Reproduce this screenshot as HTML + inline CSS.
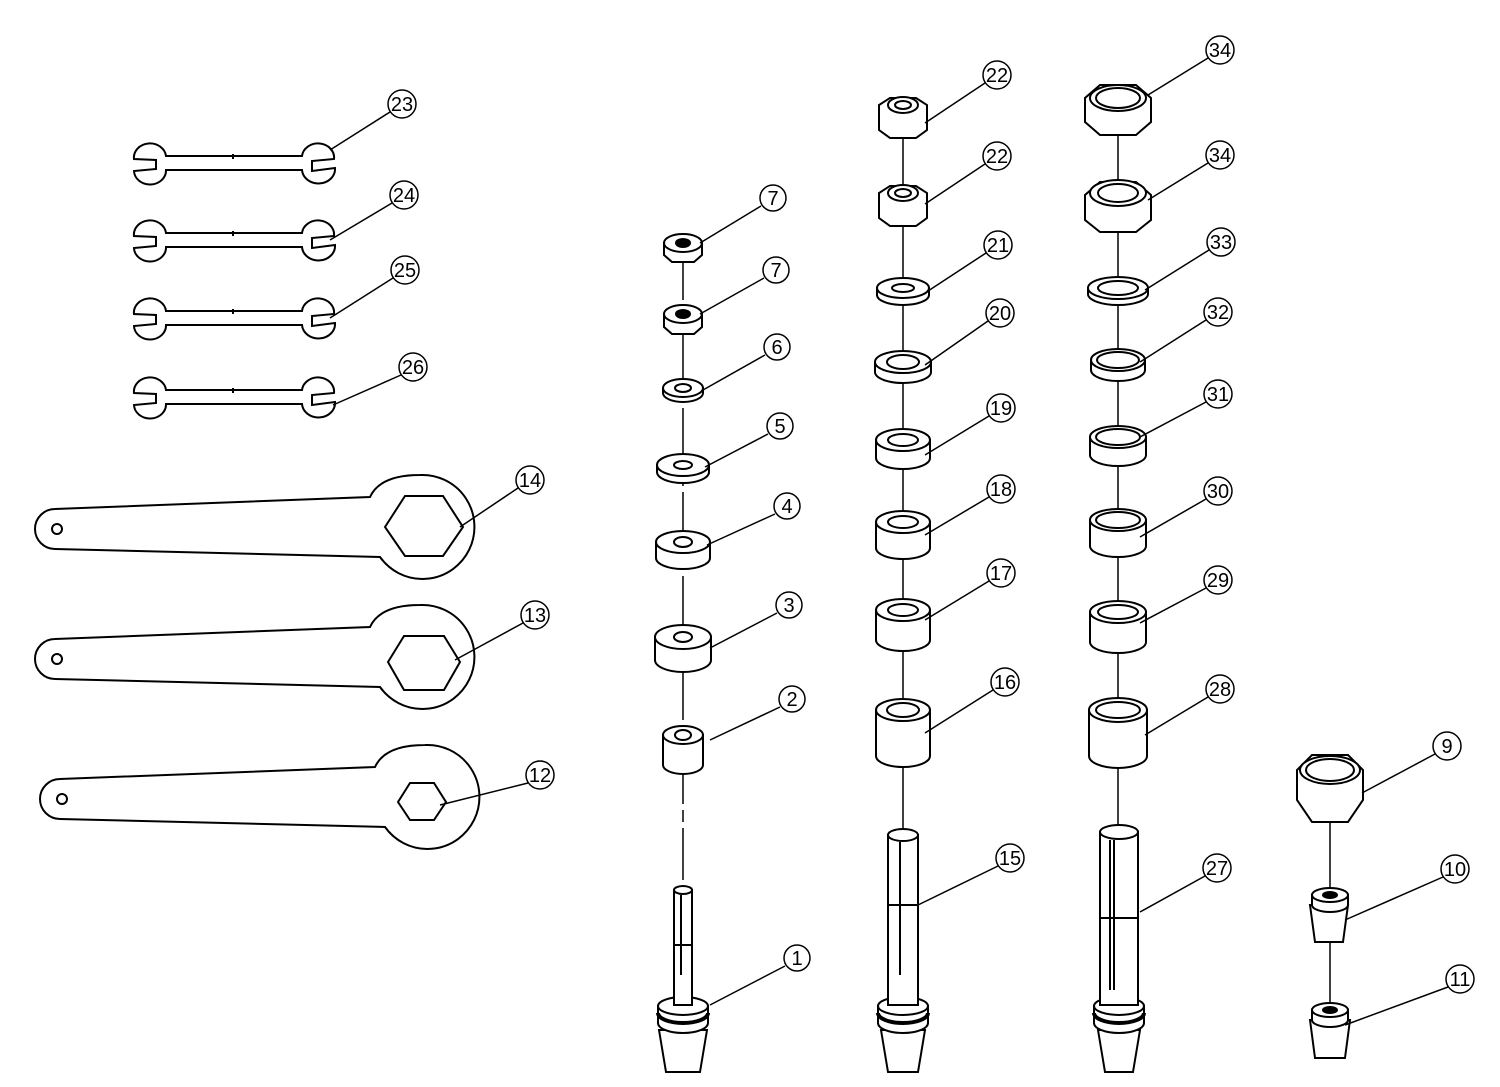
<!DOCTYPE html><html><head><style>html,body{margin:0;padding:0;background:#fff}svg{display:block}text{font-family:"Liberation Sans",sans-serif;font-size:20px;text-anchor:middle;dominant-baseline:central}</style></head><body>
<svg width="1500" height="1087" viewBox="0 0 1500 1087" xmlns="http://www.w3.org/2000/svg">
<defs>
<g id="sw" fill="#fff" stroke="#000" stroke-width="2"><path d="M4,-4 A16,14 0 0 1 36,-7 L172,-7 A16,14 0 0 1 204,-4 L182,-2 L182,8 L205,5 A16,14 0 0 1 172,7 L36,7 A16,14 0 0 1 4,8 L26,6 L26,-3 Z"/><line x1="103" y1="-9" x2="103" y2="-4"/></g>
<g id="lw" fill="#fff" stroke="#000" stroke-width="2"><path d="M20,-18 L335,-30 Q345,-52 385,-52 A52,52 0 1 1 345,30 L20,22 A20,20 0 0 1 20,-18 Z"/><circle cx="22" cy="2" r="5"/></g>
<g id="col" stroke="#000" stroke-width="2" fill="#fff"><path d="M-25,1 L-25,18 A25,10 0 0 0 25,18 L25,1 Z"/><ellipse cx="0" cy="1" rx="25" ry="9"/><path d="M-25,8 A25,10 0 0 0 25,8" stroke-width="4" fill="none"/></g>
</defs>
<g stroke="#000" stroke-width="2" fill="#fff">
<use href="#sw" x="130" y="163"/><use href="#sw" x="130" y="240"/><use href="#sw" x="130" y="318"/><use href="#sw" x="130" y="397"/>
<use href="#lw" x="35" y="527"/><polygon points="385,527 405,496 443,496 463,527 443,556 405,556"/>
<use href="#lw" x="35" y="657"/><polygon points="388,662 404,636 444,636 460,662 444,690 404,690"/>
<use href="#lw" x="40" y="797"/><polygon points="398,802 410,783 434,783 446,802 434,820 410,820"/>
</g>
<g stroke="#000" stroke-width="1.5" fill="none">
<line x1="683" y1="240" x2="683" y2="880" stroke-dasharray="60,6,12,6"/>
<line x1="903" y1="115" x2="903" y2="830"/>
<line x1="1118" y1="95" x2="1118" y2="830"/>
<line x1="1330" y1="800" x2="1330" y2="1030"/>
</g>
<g stroke="#000" stroke-width="2" fill="#fff">
<path d="M664,243 L664,255 L672,262 L694,262 L702,255 L702,243 Z"/><ellipse cx="683" cy="243" rx="19" ry="9"/><ellipse cx="683" cy="243" rx="7" ry="4" fill="#000"/>
<path d="M664,314 L664,327 L672,334 L694,334 L702,327 L702,314 Z"/><ellipse cx="683" cy="314" rx="19" ry="9"/><ellipse cx="683" cy="314" rx="7" ry="4" fill="#000"/>
<path d="M663,388 L663,393 A20,9 0 0 0 703,393 L703,388 Z"/><ellipse cx="683" cy="388" rx="20" ry="9"/><ellipse cx="683" cy="388" rx="8" ry="4"/>
<path d="M657,465 L657,472 A26,11 0 0 0 709,472 L709,465 Z"/><ellipse cx="683" cy="465" rx="26" ry="11"/><ellipse cx="683" cy="465" rx="9" ry="4"/>
<path d="M656,542 L656,558 A27,11 0 0 0 710,558 L710,542 Z"/><ellipse cx="683" cy="542" rx="27" ry="11"/><ellipse cx="683" cy="542" rx="9" ry="5"/>
<path d="M655,637 L655,660 A28,12 0 0 0 711,660 L711,637 Z"/><ellipse cx="683" cy="637" rx="28" ry="12"/><ellipse cx="683" cy="637" rx="9" ry="5"/>
<path d="M663,735 L663,765 A20,9 0 0 0 703,765 L703,735 Z"/><ellipse cx="683" cy="735" rx="20" ry="9"/><ellipse cx="683" cy="735" rx="8" ry="5"/>
<path d="M659,1030 L666,1072 L700,1072 L707,1030 Z"/>
<use href="#col" x="683" y="1005"/>
<path d="M674,890 L674,1005 L692,1005 L692,890 Z"/><ellipse cx="683" cy="890" rx="9" ry="4"/><line x1="681" y1="895" x2="681" y2="975"/><line x1="674" y1="945" x2="692" y2="945"/>
<path d="M879,105 L879,130 L890,138 L916,138 L927,130 L927,105 L916,98 L890,98 Z"/><ellipse cx="903" cy="105" rx="15" ry="8"/><ellipse cx="903" cy="105" rx="8" ry="4"/>
<path d="M879,193 L879,218 L890,226 L916,226 L927,218 L927,193 L916,186 L890,186 Z"/><ellipse cx="903" cy="193" rx="15" ry="8"/><ellipse cx="903" cy="193" rx="8" ry="4"/>
<path d="M877,288 L877,295 A26,10 0 0 0 929,295 L929,288 Z"/><ellipse cx="903" cy="288" rx="26" ry="10"/><ellipse cx="903" cy="288" rx="11" ry="4"/>
<path d="M875,362 L875,372 A28,11 0 0 0 931,372 L931,362 Z"/><ellipse cx="903" cy="362" rx="28" ry="11"/><ellipse cx="903" cy="362" rx="16" ry="7"/>
<path d="M876,440 L876,458 A27,11 0 0 0 930,458 L930,440 Z"/><ellipse cx="903" cy="440" rx="27" ry="11"/><ellipse cx="903" cy="440" rx="15" ry="6"/>
<path d="M876,522 L876,548 A27,11 0 0 0 930,548 L930,522 Z"/><ellipse cx="903" cy="522" rx="27" ry="11"/><ellipse cx="903" cy="522" rx="15" ry="6"/>
<path d="M876,610 L876,640 A27,11 0 0 0 930,640 L930,610 Z"/><ellipse cx="903" cy="610" rx="27" ry="11"/><ellipse cx="903" cy="610" rx="15" ry="6"/>
<path d="M876,710 L876,756 A27,11 0 0 0 930,756 L930,710 Z"/><ellipse cx="903" cy="710" rx="27" ry="11"/><ellipse cx="903" cy="710" rx="16" ry="7"/>
<path d="M881,1030 L888,1072 L918,1072 L925,1030 Z"/>
<use href="#col" x="903" y="1005"/>
<path d="M888,835 L888,1005 L918,1005 L918,835 Z"/><ellipse cx="903" cy="835" rx="15" ry="6"/><line x1="900" y1="842" x2="900" y2="975"/><line x1="888" y1="905" x2="918" y2="905"/>
<path d="M1085,98 L1085,122 L1100,135 L1136,135 L1151,122 L1151,98 L1136,85 L1100,85 Z"/><ellipse cx="1118" cy="98" rx="28" ry="13"/><ellipse cx="1118" cy="98" rx="22" ry="10"/>
<path d="M1085,195 L1085,220 L1100,232 L1136,232 L1151,220 L1151,195 L1136,182 L1100,182 Z"/><ellipse cx="1118" cy="193" rx="28" ry="13"/><ellipse cx="1118" cy="193" rx="20" ry="9"/>
<path d="M1088,288 L1088,294 A30,11 0 0 0 1148,294 L1148,288 Z"/><ellipse cx="1118" cy="288" rx="30" ry="11"/><ellipse cx="1118" cy="288" rx="20" ry="7"/>
<path d="M1091,360 L1091,370 A27,11 0 0 0 1145,370 L1145,360 Z"/><ellipse cx="1118" cy="360" rx="27" ry="11"/><ellipse cx="1118" cy="360" rx="21" ry="8"/>
<path d="M1090,437 L1090,455 A28,11 0 0 0 1146,455 L1146,437 Z"/><ellipse cx="1118" cy="437" rx="28" ry="11"/><ellipse cx="1118" cy="437" rx="22" ry="8"/>
<path d="M1090,520 L1090,546 A28,11 0 0 0 1146,546 L1146,520 Z"/><ellipse cx="1118" cy="520" rx="28" ry="11"/><ellipse cx="1118" cy="520" rx="22" ry="8"/>
<path d="M1090,612 L1090,642 A28,11 0 0 0 1146,642 L1146,612 Z"/><ellipse cx="1118" cy="612" rx="28" ry="11"/><ellipse cx="1118" cy="612" rx="20" ry="7"/>
<path d="M1089,710 L1089,756 A29,12 0 0 0 1147,756 L1147,710 Z"/><ellipse cx="1118" cy="710" rx="29" ry="12"/><ellipse cx="1118" cy="710" rx="22" ry="8"/>
<path d="M1098,1030 L1105,1072 L1133,1072 L1140,1030 Z"/>
<use href="#col" x="1119" y="1005"/>
<path d="M1100,832 L1100,1005 L1138,1005 L1138,832 Z"/><ellipse cx="1119" cy="832" rx="19" ry="7"/><line x1="1110" y1="840" x2="1110" y2="990"/><line x1="1114" y1="840" x2="1114" y2="990"/><line x1="1100" y1="918" x2="1138" y2="918"/>
<path d="M1297,770 L1297,800 L1312,822 L1348,822 L1363,800 L1363,770 L1348,755 L1312,755 Z"/><ellipse cx="1330" cy="770" rx="30" ry="14"/><ellipse cx="1330" cy="770" rx="24" ry="11"/>
<path d="M1310,905 L1315,942 L1343,942 L1348,905 Z"/><path d="M1312,895 L1312,905 A18,7 0 0 0 1348,905 L1348,895 Z"/><ellipse cx="1330" cy="895" rx="18" ry="7"/><ellipse cx="1330" cy="895" rx="7" ry="3" fill="#000"/>
<path d="M1310,1020 L1315,1058 L1345,1058 L1350,1020 Z"/><path d="M1312,1010 L1312,1020 A18,7 0 0 0 1348,1020 L1348,1010 Z"/><ellipse cx="1330" cy="1010" rx="18" ry="7"/><ellipse cx="1330" cy="1010" rx="7" ry="3" fill="#000"/>
</g>
<g stroke="#000" stroke-width="1.5">
<line x1="390" y1="112" x2="330" y2="150"/><line x1="392" y1="203" x2="330" y2="240"/><line x1="393" y1="278" x2="330" y2="318"/><line x1="401" y1="375" x2="333" y2="405"/>
<line x1="518" y1="488" x2="460" y2="527"/><line x1="523" y1="623" x2="455" y2="660"/><line x1="528" y1="783" x2="440" y2="805"/>
<line x1="761" y1="206" x2="700" y2="243"/><line x1="764" y1="278" x2="700" y2="314"/><line x1="765" y1="355" x2="703" y2="390"/><line x1="768" y1="434" x2="705" y2="467"/><line x1="775" y1="514" x2="707" y2="545"/><line x1="777" y1="613" x2="710" y2="648"/><line x1="780" y1="707" x2="710" y2="740"/><line x1="785" y1="966" x2="710" y2="1005"/>
<line x1="985" y1="83" x2="925" y2="123"/><line x1="985" y1="164" x2="925" y2="204"/><line x1="986" y1="253" x2="925" y2="293"/><line x1="988" y1="321" x2="925" y2="365"/><line x1="989" y1="416" x2="925" y2="455"/><line x1="989" y1="497" x2="925" y2="535"/><line x1="989" y1="581" x2="925" y2="620"/><line x1="993" y1="690" x2="925" y2="733"/><line x1="998" y1="866" x2="918" y2="905"/>
<line x1="1208" y1="58" x2="1148" y2="95"/><line x1="1208" y1="163" x2="1148" y2="200"/><line x1="1209" y1="250" x2="1145" y2="290"/><line x1="1206" y1="320" x2="1140" y2="362"/><line x1="1206" y1="402" x2="1140" y2="437"/><line x1="1206" y1="499" x2="1140" y2="537"/><line x1="1206" y1="588" x2="1140" y2="623"/><line x1="1208" y1="697" x2="1145" y2="735"/><line x1="1205" y1="876" x2="1140" y2="912"/>
<line x1="1435" y1="754" x2="1362" y2="793"/><line x1="1443" y1="877" x2="1345" y2="920"/><line x1="1448" y1="987" x2="1345" y2="1025"/>
</g>
<g stroke="#000" stroke-width="1.5" fill="#fff">
<circle cx="402" cy="104" r="14"/><circle cx="404" cy="195" r="14"/><circle cx="405" cy="270" r="14"/><circle cx="413" cy="367" r="14"/><circle cx="530" cy="480" r="14"/><circle cx="535" cy="615" r="14"/><circle cx="540" cy="775" r="14"/>
<circle cx="773" cy="198" r="13"/><circle cx="776" cy="270" r="13"/><circle cx="777" cy="347" r="13"/><circle cx="780" cy="426" r="13"/><circle cx="787" cy="506" r="13"/><circle cx="789" cy="605" r="13"/><circle cx="792" cy="699" r="13"/><circle cx="797" cy="958" r="13"/>
<circle cx="997" cy="75" r="14"/><circle cx="997" cy="156" r="14"/><circle cx="998" cy="245" r="14"/><circle cx="1000" cy="313" r="14"/><circle cx="1001" cy="408" r="14"/><circle cx="1001" cy="489" r="14"/><circle cx="1001" cy="573" r="14"/><circle cx="1005" cy="682" r="14"/><circle cx="1010" cy="858" r="14"/>
<circle cx="1220" cy="50" r="14"/><circle cx="1220" cy="155" r="14"/><circle cx="1221" cy="242" r="14"/><circle cx="1218" cy="312" r="14"/><circle cx="1218" cy="394" r="14"/><circle cx="1218" cy="491" r="14"/><circle cx="1218" cy="580" r="14"/><circle cx="1220" cy="689" r="14"/><circle cx="1217" cy="868" r="14"/>
<circle cx="1447" cy="746" r="14"/><circle cx="1455" cy="869" r="14"/><circle cx="1460" cy="979" r="14"/>
</g>
<g>
<text x="402" y="105">23</text><text x="404" y="196">24</text><text x="405" y="271">25</text><text x="413" y="368">26</text><text x="530" y="481">14</text><text x="535" y="616">13</text><text x="540" y="776">12</text>
<text x="773" y="199">7</text><text x="776" y="271">7</text><text x="777" y="348">6</text><text x="780" y="427">5</text><text x="787" y="507">4</text><text x="789" y="606">3</text><text x="792" y="700">2</text><text x="797" y="959">1</text>
<text x="997" y="76">22</text><text x="997" y="157">22</text><text x="998" y="246">21</text><text x="1000" y="314">20</text><text x="1001" y="409">19</text><text x="1001" y="490">18</text><text x="1001" y="574">17</text><text x="1005" y="683">16</text><text x="1010" y="859">15</text>
<text x="1220" y="51">34</text><text x="1220" y="156">34</text><text x="1221" y="243">33</text><text x="1218" y="313">32</text><text x="1218" y="395">31</text><text x="1218" y="492">30</text><text x="1218" y="581">29</text><text x="1220" y="690">28</text><text x="1217" y="869">27</text>
<text x="1447" y="747">9</text><text x="1455" y="870">10</text><text x="1460" y="980">11</text>
</g>
</svg></body></html>
